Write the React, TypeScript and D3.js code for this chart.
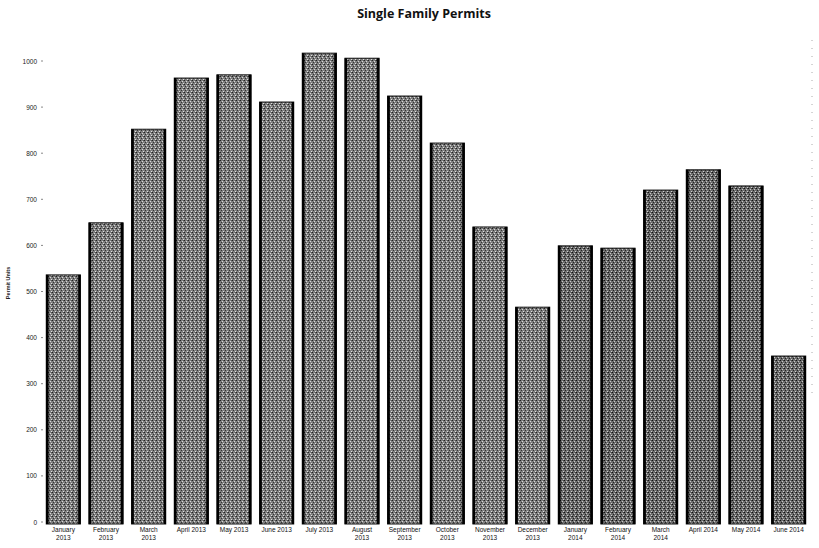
import React from "react";
import * as d3 from "d3";

const months = [
  ["January", "2013"], ["February", "2013"], ["March", "2013"], ["April 2013"], ["May 2013"], ["June 2013"],
  ["July 2013"], ["August", "2013"], ["September", "2013"], ["October", "2013"], ["November", "2013"],
  ["December", "2013"], ["January", "2014"], ["February", "2014"], ["March", "2014"], ["April 2014"],
  ["May 2014"], ["June 2014"],
];
const permits = [536, 649, 852, 963, 970, 911, 1017, 1006, 924, 822, 640, 466, 599, 594, 720, 764, 729, 360];
const yTicks = [0, 100, 200, 300, 400, 500, 600, 700, 800, 900, 1000];

const W = 819, H = 548;
const M = { left: 42, right: 9 };

export default function App() {
  const keys = months.map((_, i) => String(i));
  const x = d3.scaleBand().domain(keys).range([M.left, W - M.right]).paddingInner(0.2).paddingOuter(0.1);
  const y = d3.scaleLinear().domain([0, 1000]).range([522, 61]);
  return (
    <svg width={W} height={H} style={{ position: "absolute", left: 0, top: 0, background: "#fff" }}
      fontFamily="Liberation Sans, Arial, sans-serif">
      <defs>
        <pattern id="dith" width="4" height="4" patternUnits="userSpaceOnUse">
          <rect width="4" height="4" fill="#7e7e7e" />
          <rect x="0" y="0" width="1" height="1" fill="#222" />
          <rect x="2" y="1" width="1" height="1" fill="#d8d8d8" />
          <rect x="1" y="2" width="1" height="1" fill="#333" />
          <rect x="3" y="3" width="1" height="1" fill="#e0e0e0" />
          <rect x="3" y="0" width="1" height="1" fill="#555" />
        </pattern>
        <pattern id="dith2" width="4" height="4" patternUnits="userSpaceOnUse">
          <rect width="4" height="4" fill="#6c6c6c" />
          <rect x="0" y="0" width="1" height="1" fill="#111" />
          <rect x="2" y="1" width="1" height="1" fill="#c8c8c8" />
          <rect x="1" y="2" width="1" height="1" fill="#222" />
          <rect x="3" y="3" width="1" height="1" fill="#d0d0d0" />
          <rect x="3" y="0" width="1" height="1" fill="#444" />
        </pattern>
      </defs>
      <text x={424} y={18} textAnchor="middle" fontFamily="Open Sans, sans-serif" fontWeight="bold" fontSize={12.5} fill="#111">
        Single Family Permits
      </text>
      <text transform="translate(10,283) rotate(-90)" textAnchor="middle" fontSize={5.5} fontWeight="bold" fill="#222">
        Permit Units
      </text>
      {yTicks.map((t) => (
        <g key={t}>
          <text x={37} y={y(t) + 2.5} textAnchor="end" fontSize={6.5} fill="#222">{t}</text>
          <line x1={41} x2={43} y1={y(t)} y2={y(t)} stroke="#888" />
        </g>
      ))}
      <line x1={812} x2={812} y1={40} y2={400} stroke="#aaa" strokeDasharray="1,7" />
      {permits.map((v, i) => {
        const bx = x(String(i))!;
        const bw = x.bandwidth();
        const top = y(v);
        const bottom = y(0) + 2;
        return (
          <g key={i}>
            <rect x={bx} y={top} width={bw} height={bottom - top}
              fill={i >= 12 ? "url(#dith2)" : "url(#dith)"} stroke="#111" strokeWidth={1} />
            <line x1={bx + 1} x2={bx + 1} y1={top} y2={bottom} stroke="#000" strokeWidth={2.5} />
            <line x1={bx + bw - 1} x2={bx + bw - 1} y1={top} y2={bottom} stroke="#000" strokeWidth={2.5} />
          </g>
        );
      })}
      {months.map((lines, i) => {
        const cx = x(String(i))! + x.bandwidth() / 2;
        return (
          <text key={i} textAnchor="middle" fontSize={6.5} fill="#111">
            {lines.map((l, j) => (
              <tspan key={j} x={cx} y={532 + j * 8}>{l}</tspan>
            ))}
          </text>
        );
      })}
    </svg>
  );
}
